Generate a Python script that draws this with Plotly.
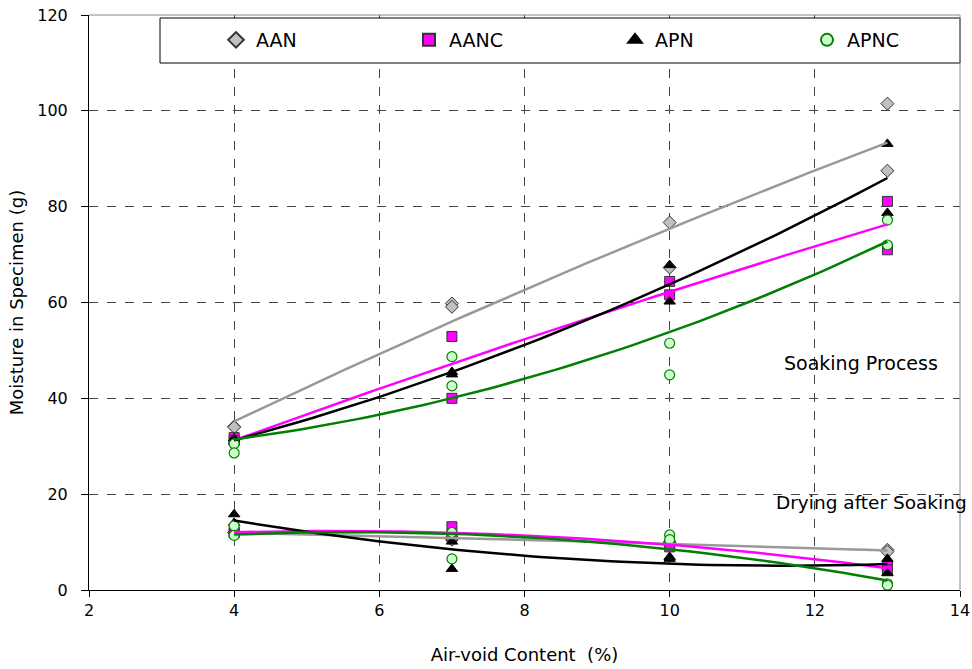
import numpy as np
import plotly.graph_objects as go

# Air-void content of each specimen (two replicates per level)
air_void = [4, 4, 7, 7, 10, 10, 13, 13]

# Soaking process moisture (g)
aan_soak = [34.1, 34.0, 59.8, 59.1, 76.7, 67.3, 101.5, 87.5]
aanc_soak = [31.8, 31.2, 52.9, 40.0, 64.4, 61.6, 81.1, 71.0]
apn_soak = [31.6, 31.0, 45.5, 45.0, 67.8, 60.2, 93.1, 78.7]
apnc_soak = [30.5, 28.6, 48.7, 42.6, 51.5, 44.9, 77.2, 72.0]

# Drying after soaking moisture (g)
aan_dry = [12.0, 12.0, 11.0, 10.5, 9.5, 10.0, 8.4, 8.0]
aanc_dry = [12.0, 12.0, 13.2, 11.1, 9.5, 9.0, 5.0, 4.2]
apn_dry = [15.8, 14.0, 10.1, 4.4, 6.9, 6.5, 6.5, 3.5]
apnc_dry = [13.4, 11.4, 12.0, 6.5, 11.5, 10.5, 1.3, 1.0]

names = ["AAN", "AANC", "APN", "APNC"]
soak = [aan_soak, aanc_soak, apn_soak, apnc_soak]
dry = [aan_dry, aanc_dry, apn_dry, apnc_dry]

marker_styles = [
    dict(symbol="diamond", size=10, color="#c0c0c0", line=dict(color="#333333", width=1)),
    dict(symbol="square", size=10, color="#ff00ff", line=dict(color="#333333", width=1)),
    dict(symbol="triangle-up", size=10, color="#000000", line=dict(color="#000000", width=1)),
    dict(symbol="circle", size=10, color="#ccffcc", line=dict(color="#008000", width=1.2)),
]
line_colors = ["#999999", "#ff00ff", "#000000", "#008000"]
legend_ids = ["legend", "legend2", "legend3", "legend4"]
legend_px = [216, 409, 615, 807]  # left edge of each legend entry (page px)

FONT = "DejaVu Sans"
PW, PH = 871, 575  # plot area in page pixels: x 89..960, y 15..590

fig = go.Figure()

for name, s, d, ms, lg in zip(names, soak, dry, marker_styles, legend_ids):
    fig.add_trace(go.Scatter(
        x=air_void + air_void, y=s + d, mode="markers", name=name,
        marker=ms, showlegend=True, legend=lg,
    ))

xs = np.linspace(4, 13, 60)
for s, d, c in zip(soak, dry, line_colors):
    for vals in (s, d):
        coef = np.polyfit(air_void, vals, 2)
        fig.add_trace(go.Scatter(
            x=xs, y=np.polyval(coef, xs), mode="lines",
            line=dict(color=c, width=2.5), showlegend=False, hoverinfo="skip",
        ))

fig.add_shape(type="rect", xref="paper", yref="paper",
              x0=(160 - 89) / PW, x1=1.0, y0=1 - (63 - 15) / PH, y1=1 - (18 - 15) / PH,
              line=dict(color="#000000", width=1), fillcolor="white", layer="above")

fig.add_annotation(x=12.64, y=47.4, text="Soaking Process", showarrow=False,
                   font=dict(size=19, color="#000000", family=FONT))
fig.add_annotation(x=12.78, y=18.2, text="Drying after Soaking", showarrow=False,
                   font=dict(size=18.5, color="#000000", family=FONT))

legend_common = dict(orientation="h", xanchor="left", yanchor="middle",
                     y=1 - (40 - 15) / PH, bgcolor="rgba(0,0,0,0)",
                     font=dict(size=19, family=FONT), itemsizing="constant")
legends = {}
for lg, px in zip(legend_ids, legend_px):
    legends[lg] = dict(legend_common, x=(px - 89) / PW)

fig.update_layout(
    width=972, height=669,
    margin=dict(l=89, r=12, t=15, b=79),
    paper_bgcolor="white", plot_bgcolor="white",
    font=dict(family=FONT, color="#000000"),
    **legends,
    xaxis=dict(range=[2, 14], tickvals=[2, 4, 6, 8, 10, 12, 14], showgrid=True,
               gridcolor="#444444", griddash="dash", gridwidth=1, automargin=False,
               showline=True, linecolor="#000000", linewidth=1, mirror=False,
               ticks="outside", ticklen=6, tickcolor="#000000", zeroline=False,
               tickfont=dict(size=16),
               title=dict(text="Air-void Content  (%)", font=dict(size=18), standoff=29)),
    yaxis=dict(range=[0, 120], tickvals=[0, 20, 40, 60, 80, 100, 120], showgrid=True,
               gridcolor="#444444", griddash="dash", gridwidth=1, automargin=False,
               showline=True, linecolor="#000000", linewidth=1, mirror=False,
               ticks="outside", ticklen=7, tickcolor="#000000", zeroline=False,
               ticklabelstandoff=10,
               tickfont=dict(size=16),
               title=dict(text="Moisture in Specimen (g)", font=dict(size=18), standoff=8)),
)

fig.add_shape(type="line", xref="paper", yref="paper", x0=0, x1=1, y0=1, y1=1,
              line=dict(color="#888888", width=1))
fig.add_shape(type="line", xref="paper", yref="paper", x0=1, x1=1, y0=0, y1=1,
              line=dict(color="#888888", width=1))

fig.write_html("out.html", config={"displayModeBar": False},
               post_script="document.body.style.margin='0';document.body.style.overflow='hidden';")
